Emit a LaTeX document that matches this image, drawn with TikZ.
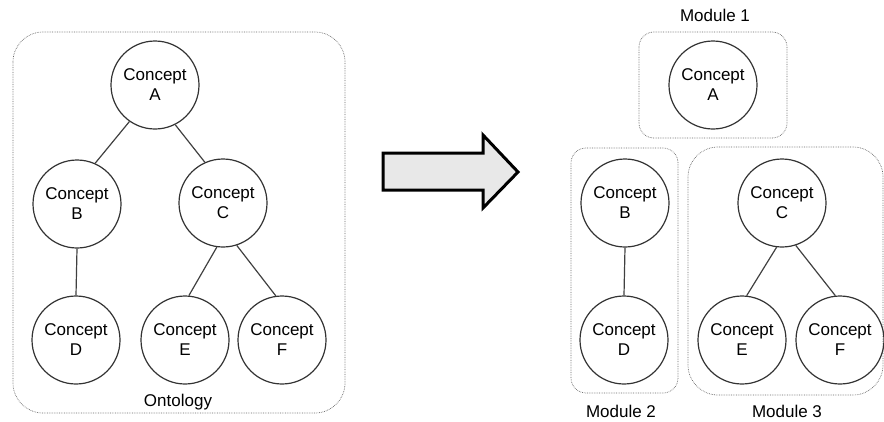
\documentclass[tikz,border=0pt]{standalone}
\usepackage{fontspec}
\setmainfont{Liberation Sans}
\usetikzlibrary{positioning,fit}
\tikzset{concept/.style={draw=black!80,circle,line width=1.2pt,minimum size=88pt,inner sep=0,align=center},
    modulebox/.style={draw=black!60,densely dotted,line width=0.7pt},
    link/.style={draw=black!75,line width=1.2pt},
    boxlabel/.style={inner sep=0}
}

\begin{document}
\begin{tikzpicture}[x=1pt,y=-1pt,font=\fontsize{17}{20}\selectfont]

\useasboundingbox (0,0) rectangle (884,421);

%% whole ontology on the left
\draw [modulebox,rounded corners=30pt] (13,32) rectangle (345,413);
\node (ontlabel) at (178,402) [boxlabel] {Ontology};

\node (cA) at (155,85) [concept] {Concept\\A};
\node (cB) at (77,204) [concept] {Concept\\B};
\node (cC) at (223,203) [concept] {Concept\\C};
\node (cD) at (76,340) [concept] {Concept\\D};
\node (cE) at (185,340) [concept] {Concept\\E};
\node (cF) at (282,340) [concept] {Concept\\F};

\draw [link] (cA.235) -- (cB.66);
\draw [link] (cA.297) -- (cC.114);
\draw [link] (cB.south) -- (cD.north);
\draw [link] (cC.262) -- (cE.85);
\draw [link] (cC.288) -- (cF.98);

%% big block arrow
\draw [fill=gray!18,line width=3pt,miter limit=10] (383,153) -- (483,153) -- (483,135) -- (518,172)
    -- (483,208) -- (483,190) -- (383,190) -- cycle;

%% modules on the right
% module 1
\draw [modulebox,rounded corners=15pt] (639,32) rectangle (787,138);
\node (m1label) at (715,15) [boxlabel] {Module 1};
\node (mA) at (713,85) [concept] {Concept\\A};

% module 2
\draw [modulebox,rounded corners=15pt] (571,148) rectangle (678,393);
\node (m2label) at (621,411) [boxlabel] {Module 2};
\node (mB) at (625,203) [concept] {Concept\\B};
\node (mD) at (624,340) [concept] {Concept\\D};

\draw [link] (mB.south) -- (mD.north);

% module 3
\draw [modulebox,rounded corners=30pt] (688,147) rectangle (883,395);
\node (m3label) at (787,411) [boxlabel] {Module 3};
\node (mC) at (782,203) [concept] {Concept\\C};
\node (mE) at (742,340) [concept] {Concept\\E};
\node (mF) at (840,340) [concept] {Concept\\F};

\draw [link] (mC.263) -- (mE.84);
\draw [link] (mC.288) -- (mF.96);

\end{tikzpicture}
\end{document}
